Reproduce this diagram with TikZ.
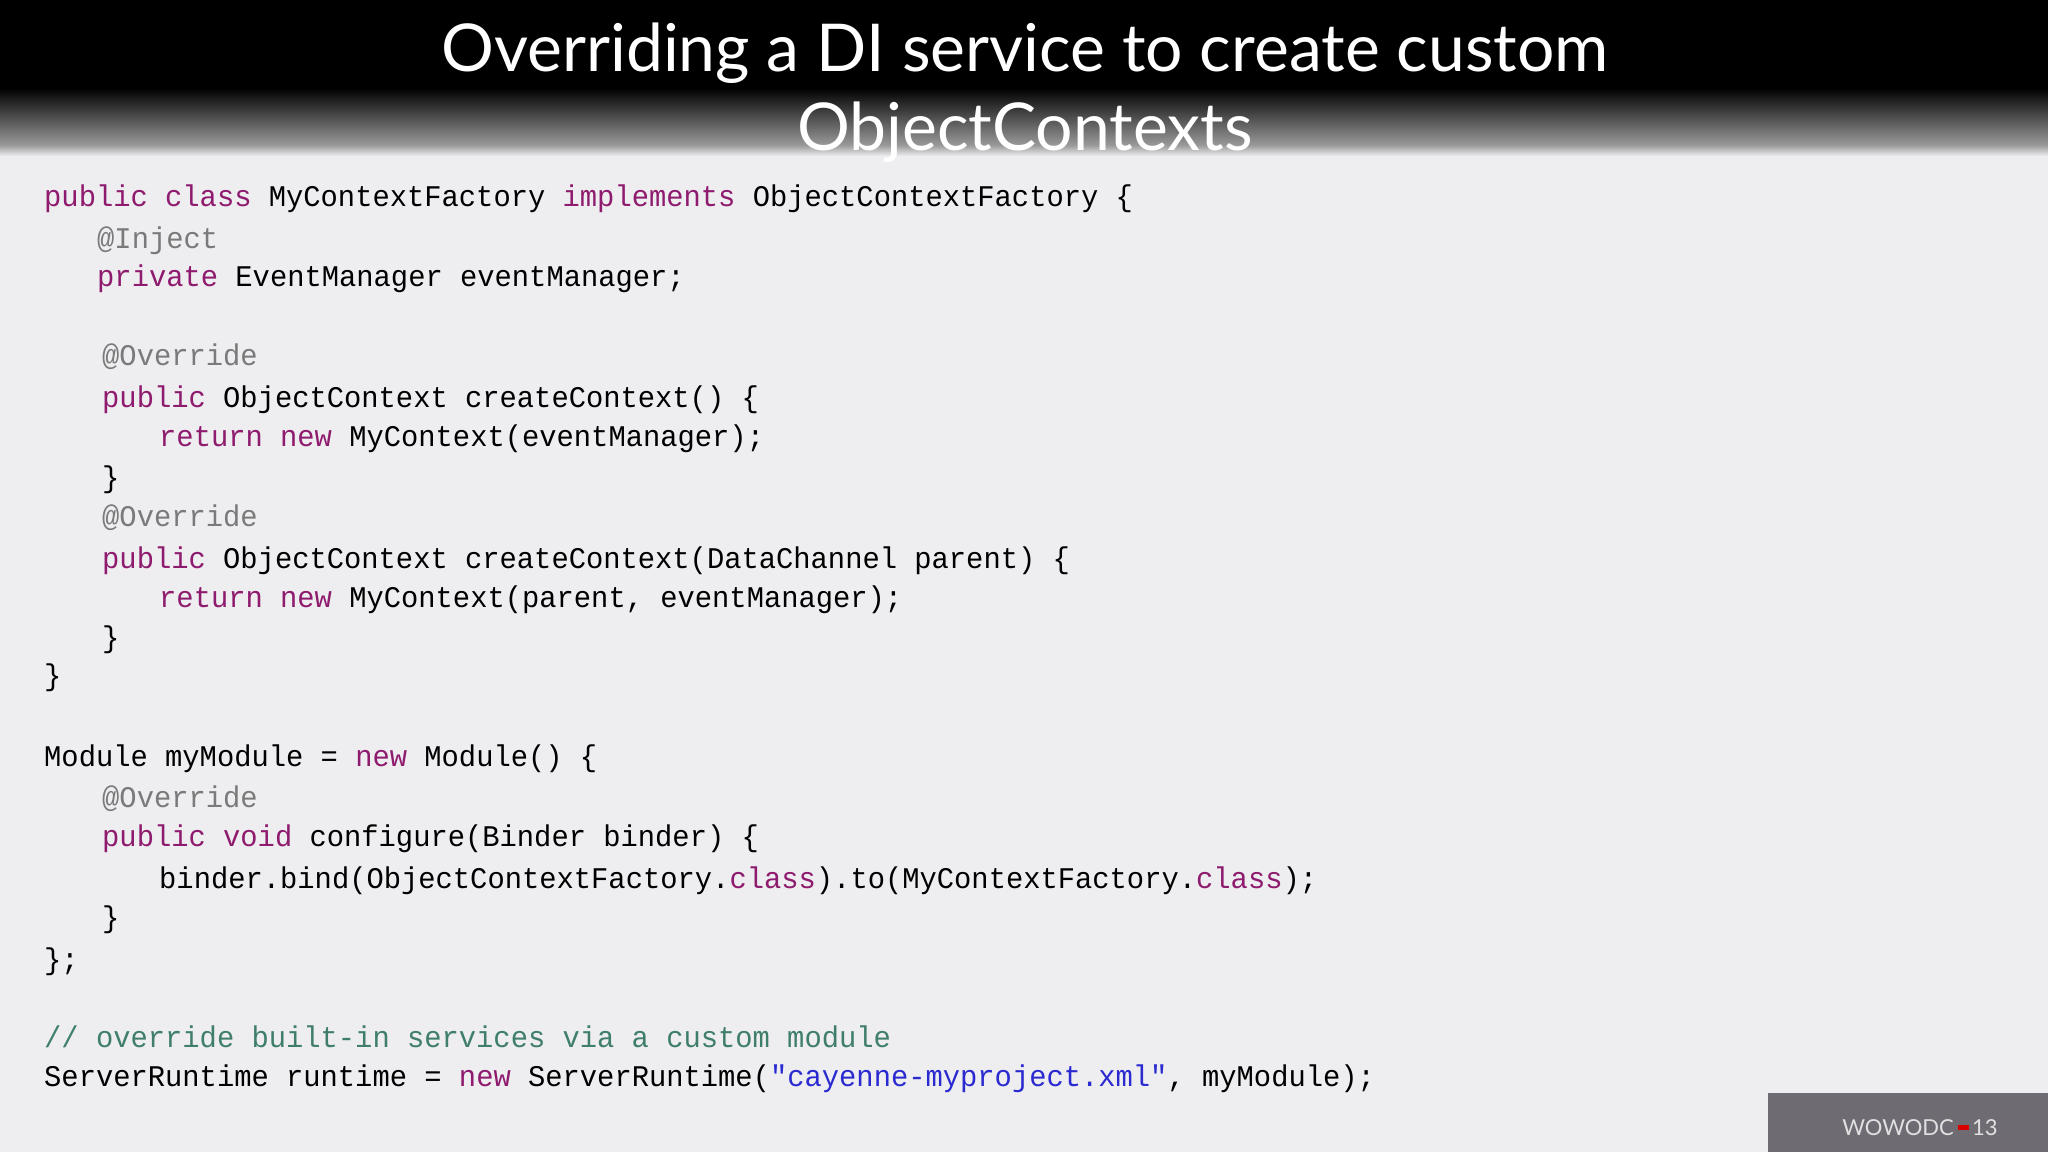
\documentclass[tikz,border=0pt]{standalone}
\usepackage{fontspec}
\usepackage{xcolor}
\newfontfamily\titlefont{Lato}
\newfontfamily\codefont[FakeStretch=0.96]{Liberation Mono}
\newfontfamily\logofont{Lato}
\definecolor{bg}{HTML}{EEEDF0}
\definecolor{kwc}{HTML}{8E1B6E}
\definecolor{anc}{HTML}{7A7A7A}
\definecolor{cmc}{HTML}{3F7F6A}
\definecolor{stc}{HTML}{2A2AD0}
\definecolor{logobg}{HTML}{6E6C72}
\newcommand\kw[1]{\textcolor{kwc}{#1}}
\newcommand\an[1]{\textcolor{anc}{#1}}
\newcommand\cm[1]{\textcolor{cmc}{#1}}
\newcommand\st[1]{\textcolor{stc}{#1}}
\tikzset{
  code/.style={anchor=base west, inner sep=0pt, font=\codefont\fontsize{30}{30}\selectfont, text=black},
  ttl/.style={anchor=base, inner sep=0pt, text=white, font=\titlefont\fontsize{66}{66}\selectfont}
}
\begin{document}
\begin{tikzpicture}[x=1pt,y=-1pt]
\useasboundingbox (0,0) rectangle (2048,1152);
\fill[bg] (0,0) rectangle (2048,1152);
\fill[black] (0,0) rectangle (2048,88);
\shade[top color=black, bottom color=black!40] (0,88) rectangle (2048,145);
\shade[top color=black!40, bottom color=bg] (0,145) rectangle (2048,156);
\node[ttl] (t1) at (1025,71) {Overriding a DI service to create custom};
\node[ttl] (t2) at (1025,150) {ObjectContexts};
\node[code] (l1) at (44,206) {\kw{public} \kw{class} MyContextFactory \kw{implements} ObjectContextFactory \{};
\node[code] (l2) at (97,248) {\an{@Inject}};
\node[code] (l3) at (97,286) {\kw{private} EventManager eventManager;};
\node[code] (l4) at (102,365) {\an{@Override}};
\node[code] (l5) at (102,407) {\kw{public} ObjectContext createContext() \{};
\node[code] (l6) at (159,446) {\kw{return} \kw{new} MyContext(eventManager);};
\node[code] (l7) at (102,487) {\}};
\node[code] (l8) at (102,526) {\an{@Override}};
\node[code] (l9) at (102,568) {\kw{public} ObjectContext createContext(DataChannel parent) \{};
\node[code] (l10) at (159,607) {\kw{return} \kw{new} MyContext(parent, eventManager);};
\node[code] (l11) at (102,647) {\}};
\node[code] (l12) at (44,685) {\}};
\node[code] (l13) at (44,766) {Module myModule = \kw{new} Module() \{};
\node[code] (l14) at (102,807) {\an{@Override}};
\node[code] (l15) at (102,846) {\kw{public} \kw{void} configure(Binder binder) \{};
\node[code] (l16) at (159,888) {binder.bind(ObjectContextFactory.\kw{class}).to(MyContextFactory.\kw{class});};
\node[code] (l17) at (102,927) {\}};
\node[code] (l18) at (44,969) {\};};
\node[code] (l19) at (44,1047) {\cm{// override built-in services via a custom module}};
\node[code] (l20) at (44,1086) {ServerRuntime runtime = \kw{new} ServerRuntime(\st{\string"cayenne-myproject.xml\string"}, myModule);};
\fill[logobg] (1768,1093) rectangle (2048,1152);
\node[anchor=base, inner sep=0pt, text=black!12, font=\logofont\fontsize{22}{22}\selectfont] (logo) at (1920,1135) {WOWODC\,\textcolor{red!85!black}{\rule[0.25em]{0.5em}{0.2em}}\,13};
\end{tikzpicture}
\end{document}
